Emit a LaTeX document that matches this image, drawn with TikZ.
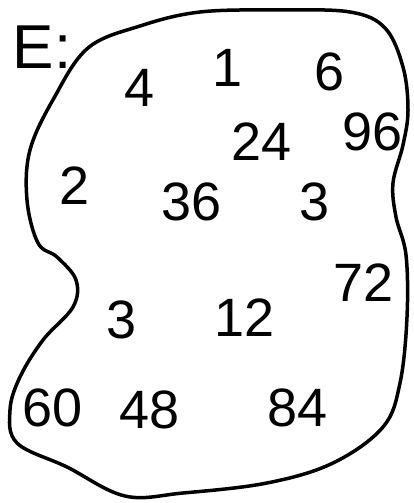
\documentclass[tikz,border=0pt]{standalone}
\usepackage{fontspec}
\setmainfont{Liberation Sans}
\usepackage{tikz}

\begin{document}
\begin{tikzpicture}[
  x=1pt,y=-1pt,
  elem/.style={inner sep=0pt,font=\fontsize{54}{56}\selectfont},
  setname/.style={inner sep=0pt,font=\fontsize{62}{64}\selectfont},
  outline/.style={line width=3.5pt,line join=round},
]
\useasboundingbox (0,0) rectangle (414,503);
% set outline
\draw[outline] plot[smooth cycle,tension=0.6] coordinates {
  (88,48) (140,26) (200,12) (280,10) (350,12) (385,28) (403,67) (408,110)
  (403,145) (393,183) (396,217) (406,255) (407,317) (400,383) (383,427)
  (333,463) (267,483) (183,493) (125,496) (67,467) (17,443) (10,410)
  (20,377) (43,340) (73,307) (76,280) (57,257) (38,243) (27,200) (30,150)
  (54,98)};
\node[setname] (E) at (42,47) {E:};
% elements
\node[elem] (n4)  at (140,88)  {4};
\node[elem] (n1)  at (228,68)  {1};
\node[elem] (n6)  at (330,72)  {6};
\node[elem] (n24) at (262,142) {24};
\node[elem] (n96) at (373,132) {96};
\node[elem] (n2)  at (75,186)  {2};
\node[elem] (n36) at (192,202) {36};
\node[elem] (n3a) at (315,202) {3};
\node[elem] (n72) at (364,283) {72};
\node[elem] (n3b) at (122,320) {3};
\node[elem] (n12) at (245,318) {12};
\node[elem] (n60) at (53,408)  {60};
\node[elem] (n48) at (150,410) {48};
\node[elem] (n84) at (298,408) {84};
\end{tikzpicture}
\end{document}
